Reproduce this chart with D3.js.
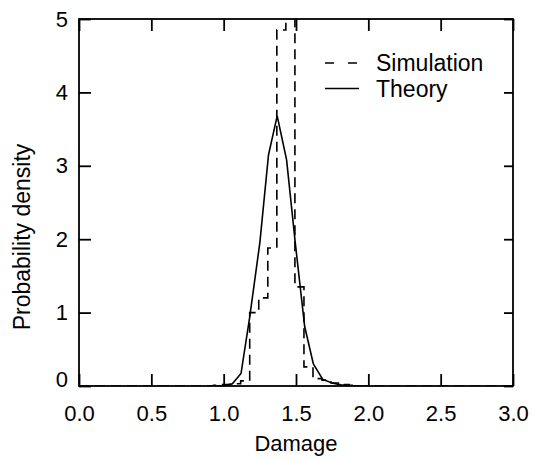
<!DOCTYPE html>
<html>
<head>
<meta charset="utf-8">
<script src="https://cdn.jsdelivr.net/npm/d3@7"></script>
<style>
  body { margin: 0; background: #fff; }
  text { font-family: "Liberation Sans", Arial, Helvetica, sans-serif; fill: #000; }
</style>
</head>
<body>
<div id="vis"></div>
<script>
//data
//simulation histogram: left edge of each bin and its height (last entry closes the step)
const SIM_EDGES = [0.0, 0.93, 0.9925, 1.055, 1.1175, 1.18, 1.2425, 1.305, 1.3675, 1.43,
                   1.4925, 1.555, 1.6175, 1.68, 1.7425, 1.805, 1.8675, 1.93, 3.0];
const SIM_DENSITY = [0, 0.01, 0.02, 0.03, 0.07, 1.00, 1.20, 1.88, 4.85, 5.40,
                     1.35, 0.26, 0.10, 0.08, 0.04, 0.02, 0.01, 0, 0];

//theory curve
const THEORY_X = [0.95, 1.00, 1.06, 1.12, 1.18, 1.25, 1.31, 1.37, 1.435, 1.495,
                  1.56, 1.62, 1.685, 1.75, 1.81, 1.87, 1.95];
const THEORY_Y = [0, 0.005, 0.03, 0.17, 0.94, 1.95, 3.15, 3.68, 3.08, 1.95,
                  0.81, 0.30, 0.09, 0.04, 0.015, 0.005, 0];

//tick labels
const X_TICKS = [0.0, 0.5, 1.0, 1.5, 2.0, 2.5, 3.0];
const Y_TICKS = [0, 1, 2, 3, 4, 5];
const LEGEND_LABELS = ["Simulation", "Theory"];

//frame constants
const FRAME_WIDTH = 539;
const FRAME_HEIGHT = 460;
const MARGINS = {left: 79, right: 26, top: 19, bottom: 74};
const VIS_WIDTH = FRAME_WIDTH - MARGINS.left - MARGINS.right;
const VIS_HEIGHT = FRAME_HEIGHT - MARGINS.top - MARGINS.bottom;
const TICK = 12;
const FONT = 22;

const FRAME = d3.select("#vis")
                .append("svg")
                  .attr("width", FRAME_WIDTH)
                  .attr("height", FRAME_HEIGHT);

FRAME.append("rect")
      .attr("width", FRAME_WIDTH)
      .attr("height", FRAME_HEIGHT)
      .attr("fill", "#fff");

//scales
const X_SCALE = d3.scaleLinear()
                  .domain([0, 3])
                  .range([MARGINS.left, MARGINS.left + VIS_WIDTH]);
const Y_SCALE = d3.scaleLinear()
                  .domain([0, 5])
                  .range([MARGINS.top + VIS_HEIGHT, MARGINS.top]);

//clip so the tall bin gets cut at the top edge
FRAME.append("clipPath")
      .attr("id", "plotclip")
      .append("rect")
        .attr("x", MARGINS.left)
        .attr("y", MARGINS.top)
        .attr("width", VIS_WIDTH)
        .attr("height", VIS_HEIGHT);

//simulation as dashed step line
const simData = SIM_EDGES.map((e, i) => ({x: e, y: SIM_DENSITY[i]}));
const stepLine = d3.line()
                   .x((d) => { return X_SCALE(d.x); })
                   .y((d) => { return Y_SCALE(d.y); })
                   .curve(d3.curveStepAfter);

FRAME.append("path")
      .datum(simData)
      .attr("clip-path", "url(#plotclip)")
      .attr("d", stepLine)
      .attr("fill", "none")
      .attr("stroke", "#000")
      .attr("stroke-width", 1.6)
      .attr("stroke-dasharray", "10,6");

//theory as solid line
const theoryData = THEORY_X.map((x, i) => ({x: x, y: THEORY_Y[i]}));
const solidLine = d3.line()
                    .x((d) => { return X_SCALE(d.x); })
                    .y((d) => { return Y_SCALE(d.y); });

FRAME.append("path")
      .datum(theoryData)
      .attr("clip-path", "url(#plotclip)")
      .attr("d", solidLine)
      .attr("fill", "none")
      .attr("stroke", "#000")
      .attr("stroke-width", 1.6);

//axes, ticks pointing inward on all four sides
const fmtX = d3.format(".1f");

const xBottom = FRAME.append("g")
      .attr("transform", "translate(0," + (MARGINS.top + VIS_HEIGHT) + ")")
      .call(d3.axisBottom(X_SCALE).tickValues(X_TICKS).tickFormat(fmtX)
              .tickSizeInner(-TICK).tickSizeOuter(0).tickPadding(19));

const yLeft = FRAME.append("g")
      .attr("transform", "translate(" + MARGINS.left + ",0)")
      .call(d3.axisLeft(Y_SCALE).tickValues(Y_TICKS).tickFormat(d3.format("d"))
              .tickSizeInner(-TICK).tickSizeOuter(0).tickPadding(11));

const xTop = FRAME.append("g")
      .attr("transform", "translate(0," + MARGINS.top + ")")
      .call(d3.axisTop(X_SCALE).tickValues(X_TICKS).tickFormat("")
              .tickSizeInner(-TICK).tickSizeOuter(0));

const yRight = FRAME.append("g")
      .attr("transform", "translate(" + (MARGINS.left + VIS_WIDTH) + ",0)")
      .call(d3.axisRight(Y_SCALE).tickValues(Y_TICKS).tickFormat("")
              .tickSizeInner(-9).tickSizeOuter(0));

[xBottom, yLeft, xTop, yRight].forEach((g) => {
  g.select(".domain").remove();
  g.selectAll(".tick line").attr("stroke", "#000").attr("stroke-width", 1.8);
  g.selectAll(".tick text")
    .attr("font-size", FONT + "px")
    .attr("font-family", "Liberation Sans, Arial, sans-serif")
    .attr("fill", "#000");
});

//lift the zero on the y axis a bit so it clears 0.0
yLeft.selectAll(".tick text")
     .filter((d) => { return d === 0; })
     .attr("dy", "0.02em");

//frame
FRAME.append("rect")
      .attr("x", MARGINS.left)
      .attr("y", MARGINS.top)
      .attr("width", VIS_WIDTH)
      .attr("height", VIS_HEIGHT)
      .attr("fill", "none")
      .attr("stroke", "#000")
      .attr("stroke-width", 1.8);

//axis titles
FRAME.append("text")
      .attr("x", X_SCALE(1.5))
      .attr("y", 451)
      .attr("text-anchor", "middle")
      .attr("font-size", FONT + "px")
      .text("Damage");

FRAME.append("text")
      .attr("transform", "translate(30,237) rotate(-90)")
      .attr("text-anchor", "middle")
      .attr("font-size", "23px")
      .text("Probability density");

//legend
const LEGEND = FRAME.append("g");
LEGEND_LABELS.forEach((lab, i) => {
  const ly = 63 + i * 25.5;
  LEGEND.append("line")
        .attr("x1", 325)
        .attr("x2", 359)
        .attr("y1", ly)
        .attr("y2", ly)
        .attr("stroke", "#000")
        .attr("stroke-width", 1.6)
        .attr("stroke-dasharray", i === 0 ? "9,14" : null);
  LEGEND.append("text")
        .attr("x", 376)
        .attr("y", ly + 8)
        .attr("font-size", "23px")
        .text(lab);
});
</script>
</body>
</html>
